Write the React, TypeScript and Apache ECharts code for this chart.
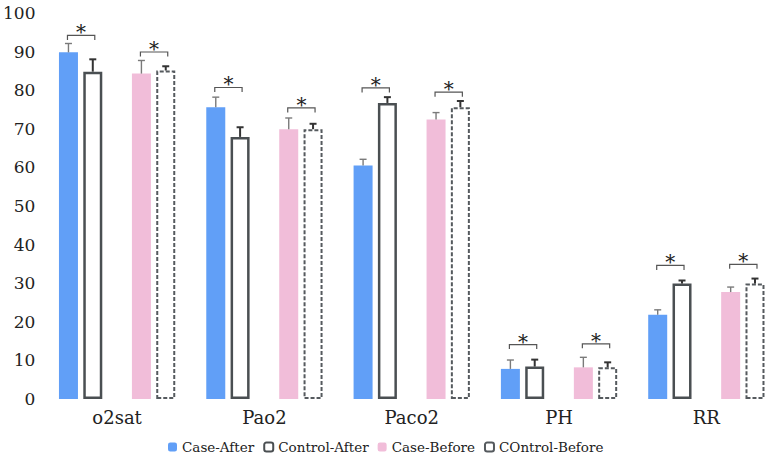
import React, { useEffect, useRef } from "react";
import * as echarts from "echarts";

const categories = ["o2sat", "Pao2", "Paco2", "PH", "RR"];
const yTicks = [0, 10, 20, 30, 40, 50, 60, 70, 80, 90, 100];

const caseAfter = [89.8, 75.6, 60.5, 7.8, 21.8];
const caseAfterErr = [2.3, 2.6, 1.6, 2.3, 1.3];
const controlAfter = [84.8, 67.9, 76.7, 8.4, 29.9];
const controlAfterErr = [3.2, 2.5, 1.5, 1.8, 0.8];
const caseBefore = [84.3, 69.9, 72.4, 8.2, 27.7];
const caseBeforeErr = [3.4, 2.9, 1.8, 2.6, 1.3];
const controlBefore = [85.1, 69.9, 75.6, 8.2, 29.9];
const controlBeforeErr = [1.1, 1.4, 1.6, 1.3, 1.3];
const sigAfter = [94.2, 80.7, 80.6, 14.1, 34.6];
const sigBefore = [89.9, 75.4, 79.5, 14.3, 34.9];

const BAR_W = 19;
const BAR_GAP = 0.28;
const FONT = "DejaVu Serif, Liberation Serif, serif";

export default function App() {
  const ref = useRef<HTMLDivElement>(null);
  useEffect(() => {
    document.body.style.margin = "0";
    const chart = echarts.init(ref.current!, null, { renderer: "svg" });
    const spacing = BAR_W * (1 + BAR_GAP);

    const renderItem = (params: any, api: any) => {
      const i = params.dataIndex;
      const cx = api.coord([i, 0])[0];
      const xs = [cx - 2 * spacing, cx - spacing, cx + spacing, cx + 2 * spacing];
      const vals = [caseAfter[i], controlAfter[i], caseBefore[i], controlBefore[i]];
      const errs = [caseAfterErr[i], controlAfterErr[i], caseBeforeErr[i], controlBeforeErr[i]];
      const children: any[] = [];
      for (let k = 0; k < 4; k++) {
        const yTop = api.coord([i, vals[k]])[1];
        const yErr = api.coord([i, vals[k] + errs[k]])[1];
        const isCtrl = k === 1 || k === 3;
        const col = isCtrl ? "#333" : "#7a7a7a";
        const lw = isCtrl ? 2 : 1.4;
        children.push({
          type: "line",
          shape: { x1: xs[k], y1: yTop, x2: xs[k], y2: yErr },
          style: { stroke: col, lineWidth: lw },
        });
        children.push({
          type: "line",
          shape: { x1: xs[k] - 3.5, y1: yErr, x2: xs[k] + 3.5, y2: yErr },
          style: { stroke: col, lineWidth: lw },
        });
      }
      const sigs = [sigAfter[i], sigBefore[i]];
      for (let p = 0; p < 2; p++) {
        const y = api.coord([i, sigs[p]])[1];
        const x1 = xs[p * 2] - 1;
        const x2 = xs[p * 2 + 1] + 2;
        children.push({
          type: "polyline",
          shape: { points: [[x1, y + 4.5], [x1, y], [x2, y], [x2, y + 4.5]] },
          style: { stroke: "#555", lineWidth: 1.2, fill: null },
        });
        children.push({
          type: "text",
          style: {
            text: "*",
            x: (x1 + x2) / 2,
            y: y - 3,
            align: "center",
            verticalAlign: "middle",
            font: `20px ${FONT}`,
            fill: "#222",
          },
        });
      }
      return { type: "group", children };
    };

    chart.setOption({
      animation: false,
      grid: { left: 40, width: 742, top: 13, bottom: 69, containLabel: false },
      legend: {
        data: ["Case-After", "Control-After", "Case-Before", "COntrol-Before"],
        bottom: 9,
        left: 163,
        itemWidth: 9,
        itemHeight: 9,
        itemGap: 9,
        textStyle: { fontFamily: FONT, fontSize: 13.5, color: "#222" },
      },
      xAxis: {
        type: "category",
        data: categories,
        axisLine: { show: false },
        axisTick: { show: false },
        axisLabel: { fontFamily: FONT, fontSize: 18, color: "#222", margin: 9 },
      },
      yAxis: {
        type: "value",
        min: 0,
        max: 100,
        interval: 10,
        axisLine: { show: false },
        axisTick: { show: false },
        splitLine: { show: false },
        axisLabel: {
          fontFamily: FONT,
          fontSize: 17,
          color: "#222",
          margin: 8,
          formatter: (v: number) => (yTicks.includes(v) ? String(v) : ""),
        },
      },
      series: [
        {
          name: "Case-After",
          type: "bar",
          barWidth: BAR_W,
          barGap: `${BAR_GAP * 100}%`,
          data: caseAfter,
          itemStyle: { color: "#619ff7" },
        },
        {
          name: "Control-After",
          type: "bar",
          barWidth: BAR_W,
          barGap: `${BAR_GAP * 100}%`,
          data: controlAfter,
          itemStyle: { color: "#fff", borderColor: "#4a4f52", borderWidth: 2.5 },
        },
        {
          name: "",
          type: "bar",
          barWidth: BAR_W,
          barGap: `${BAR_GAP * 100}%`,
          data: categories.map(() => null),
        },
        {
          name: "Case-Before",
          type: "bar",
          barWidth: BAR_W,
          barGap: `${BAR_GAP * 100}%`,
          data: caseBefore,
          itemStyle: { color: "#f1bdd9" },
        },
        {
          name: "COntrol-Before",
          type: "bar",
          barWidth: BAR_W,
          barGap: `${BAR_GAP * 100}%`,
          data: controlBefore,
          itemStyle: { color: "#fff", borderColor: "#555a5e", borderWidth: 2, borderType: [4, 2] },
        },
        {
          type: "custom",
          renderItem,
          data: categories.map((_, i) => [i]),
          encode: { x: 0 },
          z: 10,
          silent: true,
        },
      ],
    });
    return () => chart.dispose();
  }, []);
  return <div ref={ref} style={{ width: 780, height: 468 }} />;
}
